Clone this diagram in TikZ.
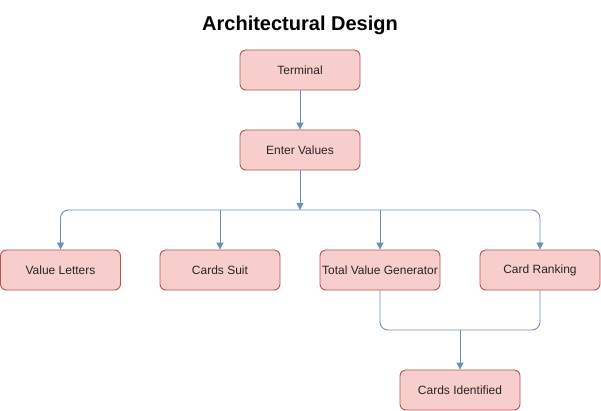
\documentclass[tikz,border=0pt]{standalone}
\usepackage{fontspec}
\setmainfont{Liberation Sans}
\usetikzlibrary{arrows.meta}
\definecolor{boxfill}{HTML}{F8CECC}
\definecolor{boxdraw}{HTML}{B85450}
\definecolor{linkcol}{HTML}{6C8EBF}
\begin{document}
\begin{tikzpicture}[x=1pt,y=-1pt,
  box/.style={draw=boxdraw, fill=boxfill, line width=0.9pt, rounded corners=6pt,
    minimum width=120pt, minimum height=40pt, inner sep=0pt, font=\fontsize{12}{14}\selectfont, text=black!85},
  link/.style={draw=linkcol, line width=0.9pt},
  arr/.style={link, -{Triangle[length=7pt,width=7pt]}},
]
\useasboundingbox (0,0) rectangle (601,411);
\node[font=\fontsize{20}{24}\selectfont\bfseries] (title) at (300,25) {Architectural Design};
\node[box] (term) at (300,70) {Terminal};
\node[box] (ev) at (300,150) {Enter Values};
\node[box] (vl) at (60.5,270) {Value Letters};
\node[box] (cs) at (220,270) {Cards Suit};
\node[box] (tv) at (380,270) {Total Value Generator};
\node[box] (cr) at (540,270) {Card Ranking};
\node[box] (ci) at (460,390) {Cards Identified};
\coordinate (j1) at (300,210);
\coordinate (j2) at (460,330);
\draw[arr] (term) -- (ev);
\draw[arr] (ev) -- (j1);
\draw[arr, rounded corners=8pt] (j1) -| (vl.north);
\draw[arr, rounded corners=8pt] (j1) -| (cr.north);
\draw[arr] (cs.north |- j1) -- (cs.north);
\draw[arr] (tv.north |- j1) -- (tv.north);
\draw[link, rounded corners=8pt] (tv.south) |- (j2) -| (cr.south);
\draw[arr] (j2) -- (ci.north);
\end{tikzpicture}
\end{document}
